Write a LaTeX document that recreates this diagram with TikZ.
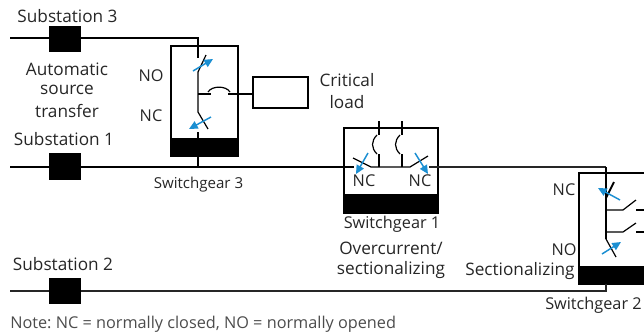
\documentclass[tikz,border=0pt]{standalone}
\usepackage{fontspec}
\setmainfont{Open Sans}
\usetikzlibrary{arrows.meta}
\definecolor{ink}{HTML}{262626}
\definecolor{arrowblue}{HTML}{1B8FD2}
\frenchspacing
\tikzset{
  lbl/.style={text=ink,font=\fontsize{12.2}{14}\selectfont,inner sep=0pt,align=center},
  lblw/.style={text=ink,font=\fontsize{12.9}{14}\selectfont,inner sep=0pt,align=center},
  bold/.style={line width=1.5pt,black},
  thin/.style={line width=0.8pt,black!85},
  contact/.style={line width=0.9pt,black},
  frame/.style={draw=black,line width=1.4pt,fill=white},
  blk/.style={fill=black,draw=none},
  flow/.style={draw=arrowblue,line width=1.1pt,-{Triangle[length=6.5pt,width=6pt]}}
}
\begin{document}
\begin{tikzpicture}[x=0.75pt,y=-0.75pt]
\useasboundingbox (0,0) rectangle (644,333);
\clip (0,0) rectangle (644,333);
% coordinates
\coordinate (s3w) at (10,38); \coordinate (s3c) at (198,38);
\coordinate (s1w) at (10,167); \coordinate (s2w) at (10,291);
% switchgear frames
\path[frame] (171,46) rectangle (238,156);
\path[blk] (170.5,138) rectangle (238.5,156.5);
\path[frame] (344,128) rectangle (438,213);
\path[blk] (343.5,194) rectangle (438.5,213.5);
\path[draw=black,line width=1.1pt,fill=white] (579,173) rectangle (660,284);
\path[blk] (578.5,266) rectangle (660,284.5);
% feeders
\draw[bold] (s3w) -- (s3c) -- (198,58);
\draw[bold] (s1w) -- (354,167);
\draw[thin] (s2w) -- (606,291) -- (606,284);
\draw[thin] (429,167) -- (606,167);
\draw[bold] (606,167) -- (606,198);
% substation blocks
\node[blk,minimum width=24pt,minimum height=20pt,inner sep=0pt] (b3) at (65,39) {};
\node[blk,minimum width=24pt,minimum height=20pt,inner sep=0pt] (b1) at (65,166.5) {};
\node[blk,minimum width=24pt,minimum height=20pt,inner sep=0pt] (b2) at (65,291) {};
% switchgear 3 internals
\draw[contact] (198,72) -- (206,55);
\draw[contact] (198,72) -- (198,112) -- (208,129);
\draw[contact] (198,132) -- (198,138);
\draw[contact] (198,156) -- (198,167);
\draw[contact] (198,94) -- (211,94);
\draw[contact] (208,92) .. controls (212,85.5) and (226,85.5) .. (230,92);
\draw[contact] (228,94) -- (253,94);
\node[draw=black,line width=1.1pt,fill=white,minimum width=41pt,minimum height=23pt,inner sep=0pt] (load) at (280.5,92.5) {};
% switchgear 1 internals
\draw[contact] (353,158) -- (371,167) -- (410,167) -- (428,156);
\draw[contact] (379,121) -- (379,135);
\draw[contact] (379,154) -- (379,167);
\draw[contact] (402,121) -- (402,135);
\draw[contact] (402,154) -- (402,167);
\draw[contact] (377,135) .. controls (371,141) and (371,148) .. (377,154);
\draw[contact] (400,135) .. controls (394,141) and (394,148) .. (400,154);
% switchgear 2 internals
\draw[bold] (606,198) -- (614,182);
\draw[bold] (606,198) -- (606,239);
\draw[contact] (606,239) -- (616,257);
\draw[contact] (606,210) -- (623,210) -- (636,200);
\draw[contact] (636,210) -- (644,210);
\draw[contact] (606,232) -- (623,232) -- (636,223);
\draw[contact] (636,232) -- (644,232);
% operating arrows
\draw[flow] (193,71) -- (213,59);
\draw[flow] (211,117) -- (189,129);
\draw[flow] (368,153) -- (356,174);
\draw[flow] (415,153) -- (428,174);
\draw[flow] (620,200) -- (598,188);
\draw[flow] (602,254) -- (621,242);
% labels
\node[lblw] (t1) at (67.5,16.5) {Substation 3};
\node[lblw] (t2) at (67,69.5) {Automatic};
\node[lblw] (t3) at (67,90) {source};
\node[lblw] (t4) at (67,110.5) {transfer};
\node[lblw] (t5) at (64,139.5) {Substation 1};
\node[lblw] (t6) at (63,264.5) {Substation 2};
\node[lbl] (t7) at (151,76) {NO};
\node[lbl] (t8) at (151,116) {NC};
\node[lblw] (t9) at (347,80.5) {Critical};
\node[lblw] (t10) at (347,102.5) {load};
\node[lbl,font=\fontsize{11.3}{14}\selectfont] (t11) at (198.5,185) {Switchgear 3};
\node[lbl] (t12) at (392,224) {Switchgear 1};
\node[lblw] (t13) at (391,248) {Overcurrent/};
\node[lblw] (t14) at (391,270) {sectionalizing};
\node[lblw] (t15) at (520,271) {Sectionalizing};
\node[lbl] (t16) at (564,190) {NC};
\node[lbl] (t17) at (564,250) {NO};
\node[lbl] (t18) at (364,181) {NC};
\node[lbl] (t19) at (420,181) {NC};
\node[lbl,anchor=west] (t20) at (545,305) {Switchgear 2};
\node[lbl,anchor=west,text=black!70] (t21) at (10,324) {Note: NC = normally closed, NO = normally opened};
\end{tikzpicture}
\end{document}
